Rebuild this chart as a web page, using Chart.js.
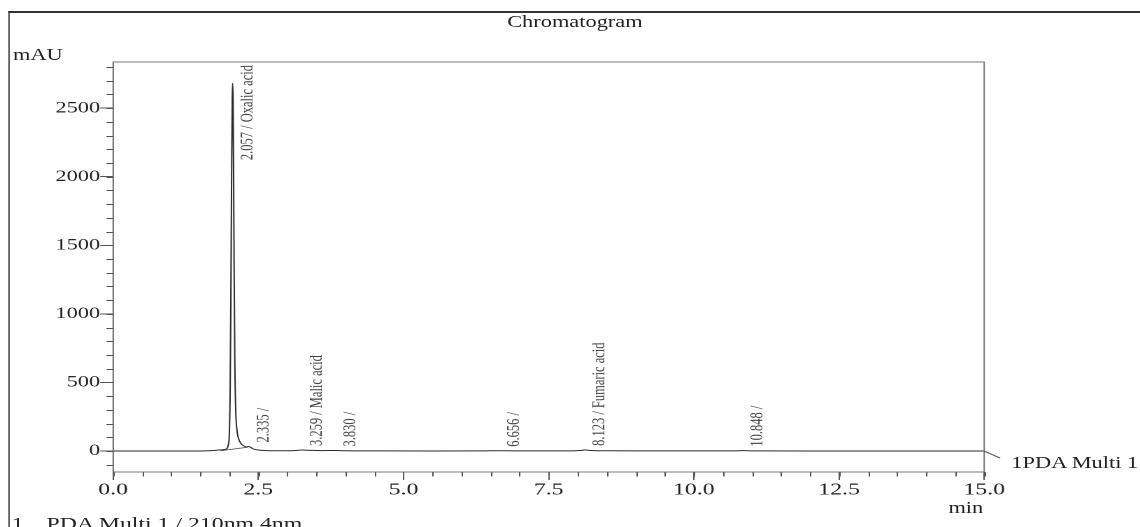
<!DOCTYPE html>
<html>
<head>
<meta charset="utf-8">
<script src="https://cdn.jsdelivr.net/npm/chart.js@4.4.0/dist/chart.umd.min.js"></script>
<style>
  html, body { margin:0; padding:0; background:#fff; overflow:hidden; }
  /* the scanned original is stretched sideways, so the whole stage is too */
  #stage { position:absolute; left:0; top:0; width:815px; height:527px;
           transform:scaleX(1.3988); transform-origin:0 0;
           font-family:"Liberation Serif","Times New Roman",serif; color:#222; }
  #frame { position:absolute; left:5.5px; top:11px; width:900px; height:600px;
           border-left:1.5px solid #333; border-top:2px solid #333; }
  canvas { position:absolute; left:0; top:0; }
  .t { position:absolute; line-height:1; white-space:pre; font-size:16px; }
</style>
</head>
<body>
<div id="stage">
  <div id="frame"></div>
  <canvas id="chrom" width="815" height="527"></canvas>
  <div class="t" style="left:311px;width:200px;text-align:center;top:14px">Chromatogram</div>
  <div class="t" style="left:9.3px;top:46.6px">mAU</div>
  <div class="t" style="left:723px;top:455px">1PDA Multi 1</div>
  <div class="t" style="left:678px;top:499.5px">min</div>
  <div class="t" style="left:8.4px;top:515px;font-size:17px">1</div>
  <div class="t" style="left:33.3px;top:515px;font-size:17px">PDA Multi 1 / 210nm 4nm</div>
</div>
<script>
// trace (time in min, absorbance in mAU)
const traceTime  = [0, 1.0, 1.5, 1.7, 1.85, 1.95, 1.98, 2.0, 2.015, 2.03, 2.042, 2.05, 2.057, 2.064, 2.072, 2.082, 2.095, 2.11, 2.13, 2.16, 2.20, 2.26, 2.30, 2.335, 2.37, 2.42, 2.5, 2.6, 2.8, 3.0, 3.15, 3.259, 3.4, 3.6, 3.83, 4.0, 4.5, 5.5, 6.4, 6.656, 6.9, 7.9, 8.05, 8.123, 8.22, 8.5, 9.0, 10.7, 10.848, 11.0, 12.0, 15.0];
const traceValue = [0, 0, 0, 3, 8, 15, 40, 120, 450, 1350, 2150, 2560, 2680, 2570, 2150, 1400, 650, 300, 160, 90, 55, 35, 30, 33, 26, 14, 7, 4, 2, 2, 4, 7, 5, 3, 4, 2, 1, 0, 1, 2, 1, 1, 4, 8, 4, 2, 1, 1, 3, 1, 0, 0];

// integration baseline under the big peak
const baseTime  = [1.85, 2.32];
const baseValue = [2, 28];

// peak annotations
const peakTimes   = [2.057, 2.335, 3.259, 3.830, 6.656, 8.123, 10.848];
const peakHeights = [2680, 33, 7, 4, 2, 8, 3];
const peakNames   = ['Oxalic acid', '', 'Malic acid', '', '', 'Fumaric acid', ''];

// axes
const xTicks = [0, 2.5, 5, 7.5, 10, 12.5, 15];
const yTicks = [0, 500, 1000, 1500, 2000, 2500];
const xMin = 0, xMax = 15, xMinorStep = 0.5;
const yMin = -153, yMax = 2836, yMinorStep = 100;

const serif = '"Liberation Serif", "Times New Roman", serif';

// box, minor ticks, peak labels, channel leader line
const decor = {
  id: 'decor',
  afterDraw(chart){
    const { ctx, chartArea: a, scales: { x, y } } = chart;
    ctx.save();
    ctx.strokeStyle = '#777';
    ctx.lineWidth = 1;
    ctx.strokeRect(a.left, a.top, a.right - a.left, a.bottom - a.top);

    ctx.strokeStyle = '#555';
    ctx.beginPath();
    for(let v = xMin; v <= xMax + 1e-9; v += xMinorStep){
      const px = Math.round(x.getPixelForValue(v)) + 0.5;
      ctx.moveTo(px, a.bottom); ctx.lineTo(px, a.bottom + 4.5);
    }
    const yStart = Math.ceil(yMin / yMinorStep) * yMinorStep;
    for(let v = yStart; v <= yMax; v += yMinorStep){
      const py = Math.round(y.getPixelForValue(v)) + 0.5;
      ctx.moveTo(a.left, py); ctx.lineTo(a.left - 4.8, py);
    }
    ctx.stroke();

    // leader from trace end to channel name
    const ex = x.getPixelForValue(xMax), ey = y.getPixelForValue(0);
    ctx.strokeStyle = '#555';
    ctx.beginPath(); ctx.moveTo(ex, ey); ctx.lineTo(ex + 11.4, ey + 7); ctx.stroke();

    // peak labels, rotated
    ctx.font = '12.5px ' + serif;
    ctx.fillStyle = '#444';
    ctx.textBaseline = 'middle';
    ctx.textAlign = 'left';
    peakTimes.forEach((t, i) => {
      const txt = t.toFixed(3) + ' / ' + peakNames[i];
      const w = ctx.measureText(txt.trim()).width;
      let start = y.getPixelForValue(peakHeights[i]) - 4;
      if(start - w < a.top + 3) start = a.top + 3 + w;
      const px = x.getPixelForValue(t) + 10.7;
      ctx.save();
      ctx.translate(px, start);
      ctx.rotate(-Math.PI / 2);
      ctx.fillText(txt, 0, 0);
      ctx.restore();
    });
    ctx.restore();
  }
};

const ctx = document.getElementById('chrom').getContext('2d');
new Chart(ctx, {
  type: 'line',
  data: {
    datasets: [
      { data: traceTime.map((t, i) => ({ x: t, y: traceValue[i] })), borderColor: '#2a2a2a', borderWidth: 1, borderJoinStyle: 'round', borderCapStyle: 'round', pointRadius: 0, cubicInterpolationMode: 'monotone', fill: false },
      { data: baseTime.map((t, i) => ({ x: t, y: baseValue[i] })), borderColor: '#555', borderWidth: 0.8, pointRadius: 0, tension: 0, fill: false }
    ]
  },
  options: {
    responsive: false,
    animation: false,
    devicePixelRatio: 2,
    layout: { padding: { left: 0, top: 62, right: 111.4, bottom: 0 } },
    plugins: { legend: { display: false }, tooltip: { enabled: false }, title: { display: false } },
    scales: {
      x: {
        type: 'linear', min: xMin, max: xMax,
        afterFit(s){ s.height = 55; },
        afterBuildTicks(s){ s.ticks = xTicks.map(v => ({ value: v })); },
        ticks: { callback: v => Number(v).toFixed(1), font: { family: serif, size: 17 }, color: '#222', padding: 0, maxRotation: 0, autoSkip: false },
        grid: { drawOnChartArea: false, tickLength: 8, color: '#555' },
        border: { color: '#777' }
      },
      y: {
        type: 'linear', min: yMin, max: yMax,
        afterFit(s){ s.width = 80.9; },
        afterBuildTicks(s){ s.ticks = yTicks.map(v => ({ value: v })); },
        ticks: { callback: v => String(v), font: { family: serif, size: 16 }, color: '#222', padding: 0, autoSkip: false },
        grid: { drawOnChartArea: false, tickLength: 9.3, color: '#555' },
        border: { color: '#777' }
      }
    }
  },
  plugins: [decor]
});
</script>
</body>
</html>
